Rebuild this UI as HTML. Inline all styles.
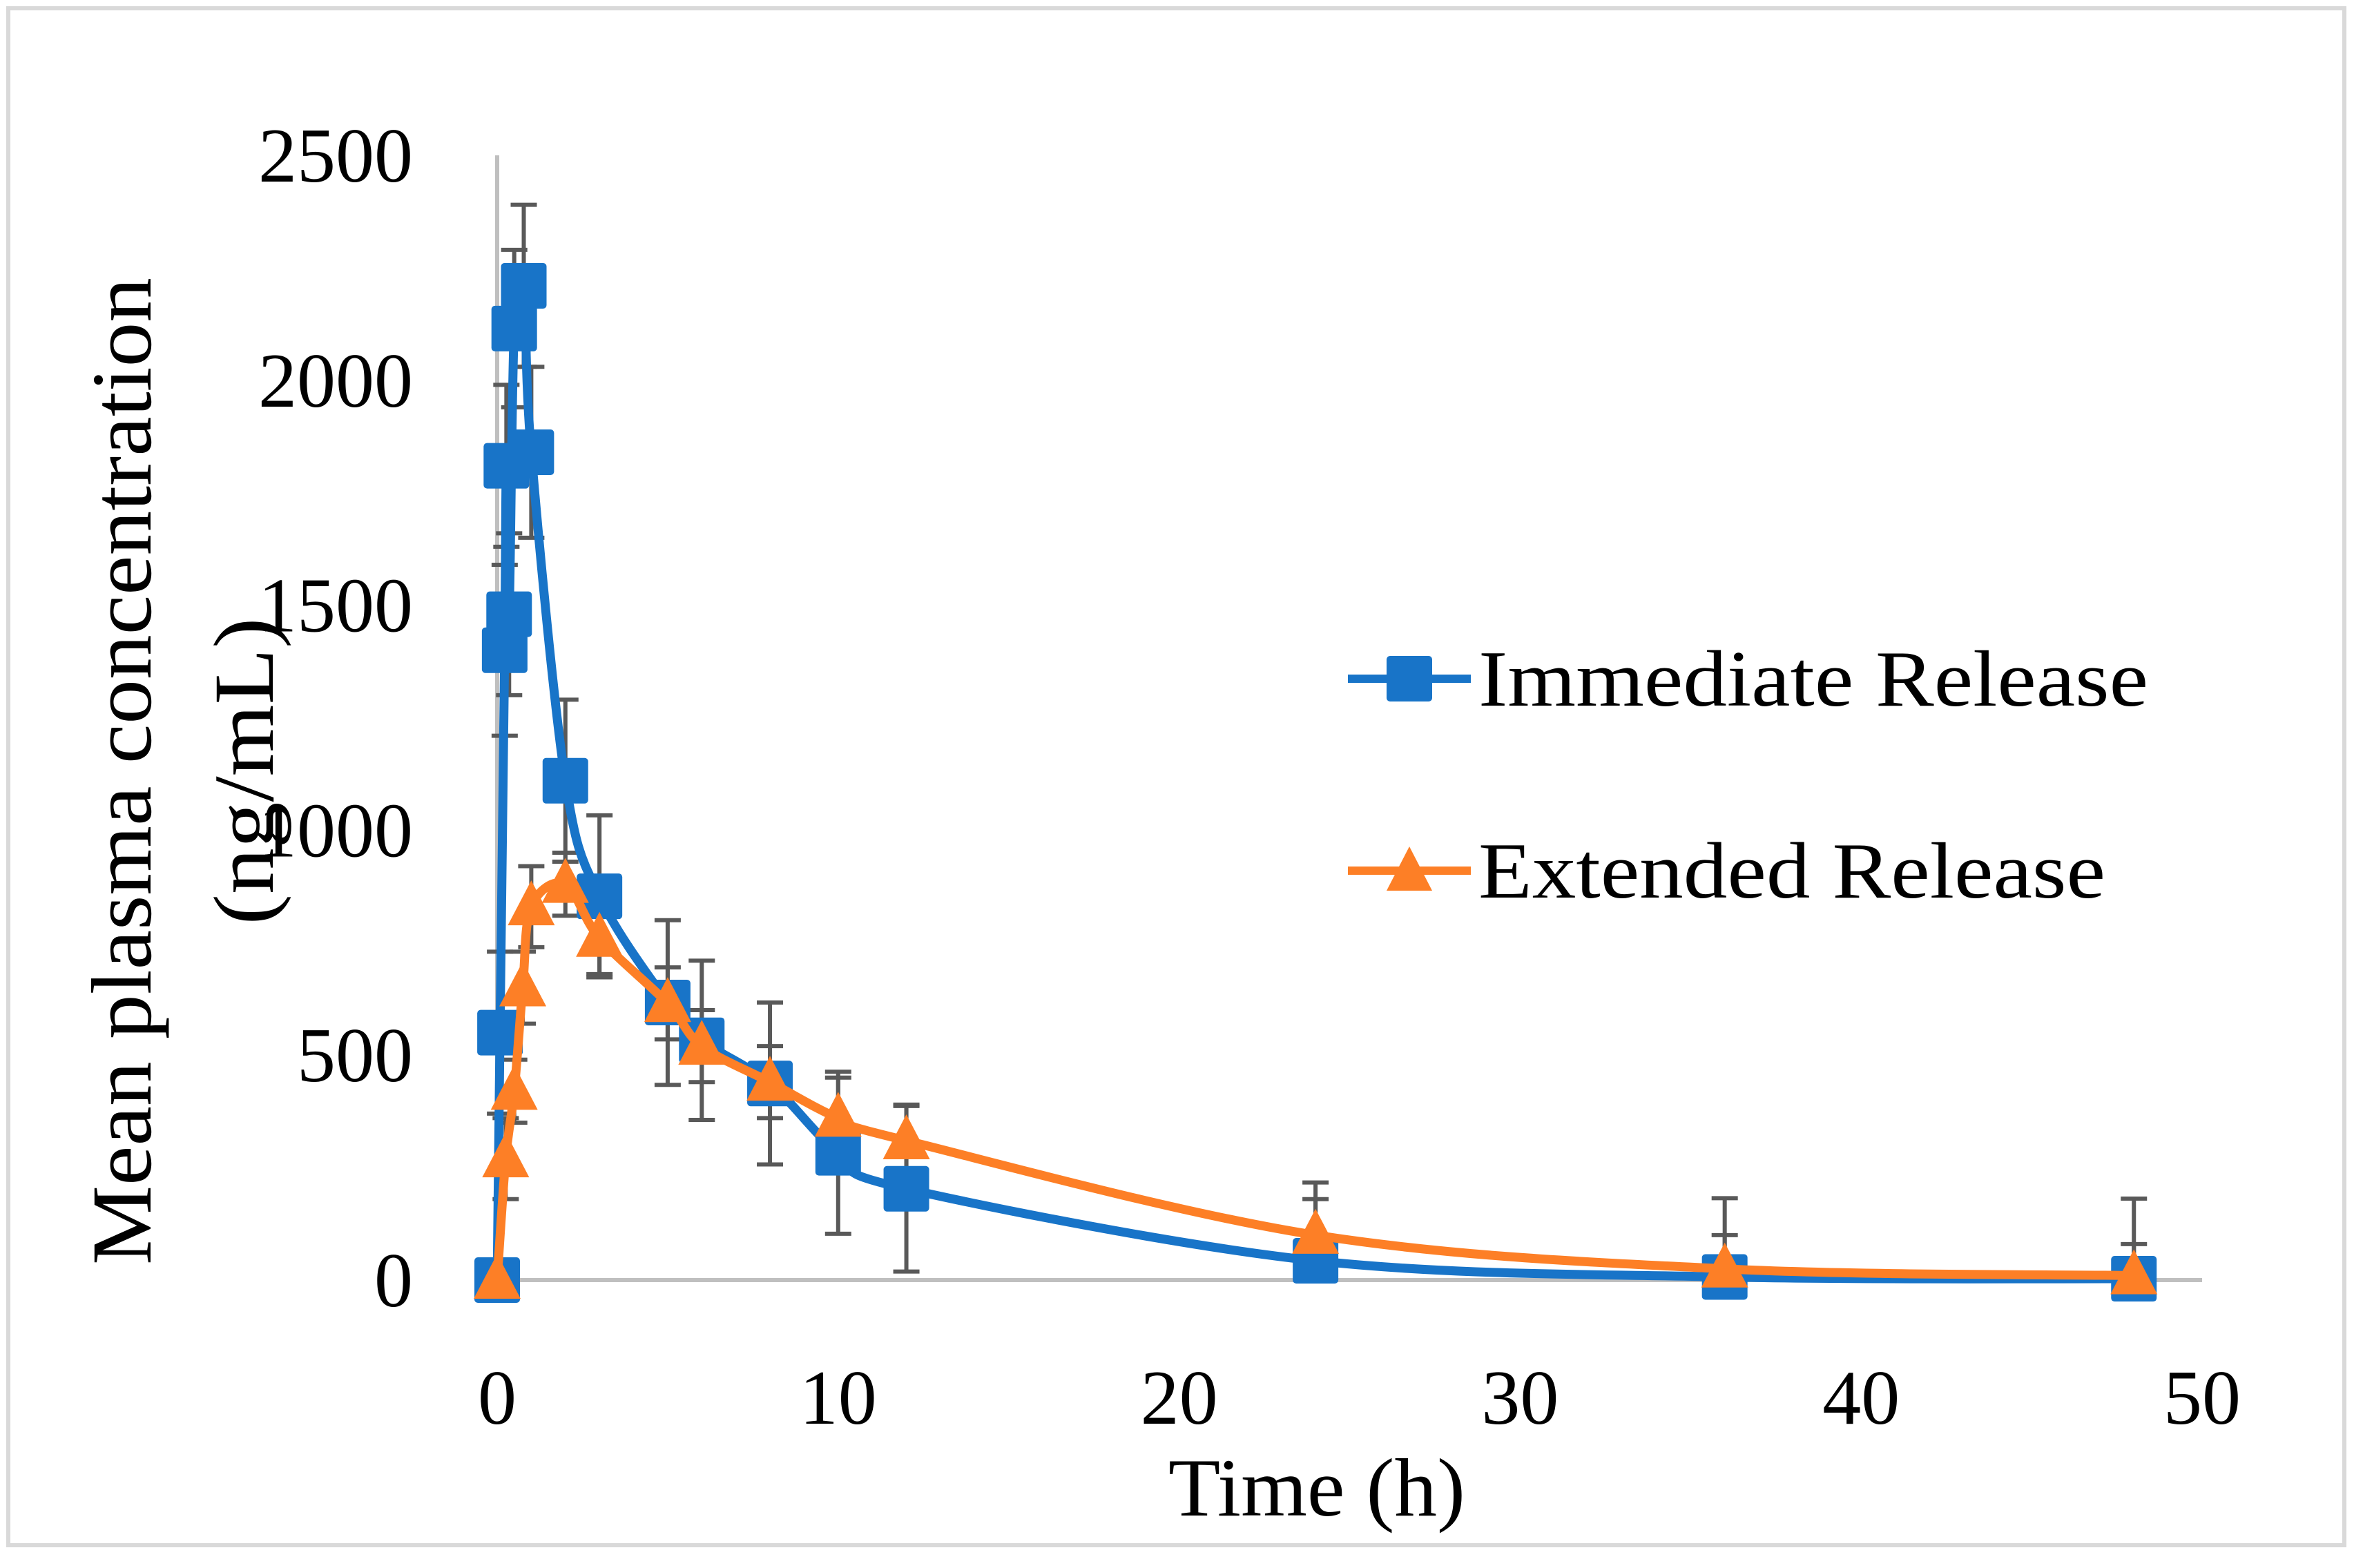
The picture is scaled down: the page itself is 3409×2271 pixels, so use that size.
<!DOCTYPE html>
<html><head><meta charset="utf-8"><style>html,body{margin:0;padding:0;background:#fff}svg{display:block}</style></head>
<body>
<svg id="chart" width="3409" height="2271" viewBox="0 0 3409 2271" xmlns="http://www.w3.org/2000/svg" font-family="'Liberation Serif', serif">
<rect x="12" y="12" width="3383" height="2226" fill="#fff" stroke="#d9d9d9" stroke-width="6"/>
<g id="axes"></g>
<g id="series"></g>
<text x="1907" y="2195" font-size="120" text-anchor="middle" textLength="430" lengthAdjust="spacingAndGlyphs">Time (h)</text>
<g transform="translate(0,1117) rotate(-90)">
<text x="0" y="218" font-size="124" text-anchor="middle" textLength="1430" lengthAdjust="spacingAndGlyphs">Mean plasma concentration</text>
<text x="0" y="395" font-size="124" text-anchor="middle" textLength="445" lengthAdjust="spacingAndGlyphs">(ng/mL)</text>
</g>
<g>
<g>
<line x1="1952" y1="983" x2="2130" y2="983" stroke="#1874c8" stroke-width="12"/>
<rect x="2008" y="950" width="66" height="66" rx="5" fill="#1874c8"/>
<text x="2141" y="1022" font-size="116" textLength="970" lengthAdjust="spacingAndGlyphs">Immediate Release</text>
</g>
<g>
<line x1="1952" y1="1261" x2="2130" y2="1261" stroke="#fd7f26" stroke-width="12"/>
<polygon points="2041,1226 2074,1290 2008,1290" fill="#fd7f26"/>
<text x="2141" y="1300" font-size="116" textLength="908" lengthAdjust="spacingAndGlyphs">Extended Release</text>
</g>
</g>
</svg>
<script>
const xTicks = [0, 10, 20, 30, 40, 50];
const yTicks = [0, 500, 1000, 1500, 2000, 2500];
const irTimes = [0, 0.083, 0.22, 0.35, 0.27, 0.5, 0.78, 1.0, 2, 3, 5, 6, 8, 10, 12, 24, 36, 48];
const irValues = [0, 550, 1400, 1480, 1810, 2115, 2210, 1840, 1110, 853, 617, 533, 437, 283, 203, 43, 7, 3];
const irSD = [0, 180, 190, 180, 180, 175, 180, 190, 180, 180, 183, 177, 180, 180, 184, 174, 175, 178];
const erTimes = [0, 0.25, 0.5, 0.75, 1, 2, 3, 5, 6, 8, 10, 12, 24, 36, 48];
const erValues = [0, 270, 420, 650, 830, 880, 760, 615, 520, 440, 360, 310, 100, 25, 10];
const erSD = [0, 90, 70, 80, 90, 70, 80, 80, 80, 80, 90, 80, 80, 75, 70];

const NS = 'http://www.w3.org/2000/svg';
const X0 = 720, X1 = 3189, Y0 = 1854, Y1 = 225;
function xs(v) { return X0 + (v - 0) / 50 * (X1 - X0); }
function ys(v) { return Y0 - v / 2500 * (Y0 - Y1); }
function mk(tag, attrs, parent) {
  const e = document.createElementNS(NS, tag);
  for (const k in attrs) e.setAttribute(k, attrs[k]);
  parent.appendChild(e);
  return e;
}
const axes = document.getElementById('axes');
const series = document.getElementById('series');

let a = mk('line', {x1: X0, y1: Y0, x2: X1, y2: Y0, stroke: '#bfbfbf', 'stroke-width': 6}, axes);


a = mk('line', {x1: X0, y1: Y0, x2: X0, y2: Y1, stroke: '#bfbfbf', 'stroke-width': 6}, axes);



xTicks.forEach(t => {
  const tx = mk('text', {x: xs(t), y: 2062, 'font-size': 112, 'text-anchor': 'middle'}, axes);
  tx.textContent = t;
  
  
});
yTicks.forEach(t => {
  const tx = mk('text', {x: 598, y: ys(t) + 38, 'font-size': 112, 'text-anchor': 'end'}, axes);
  tx.textContent = t;
  
  
});

function smoothPath(pts) {
  let d = 'M' + pts[0][0] + ',' + pts[0][1];
  for (let i = 0; i < pts.length - 1; i++) {
    const p0 = pts[Math.max(0, i - 1)], p1 = pts[i], p2 = pts[i + 1], p3 = pts[Math.min(pts.length - 1, i + 2)];
    const t = 0.5 / 3;
    const c1 = [p1[0] + (p2[0] - p0[0]) * t, p1[1] + (p2[1] - p0[1]) * t];
    const c2 = [p2[0] - (p3[0] - p1[0]) * t, p2[1] - (p3[1] - p1[1]) * t];
    d += ' C' + c1[0] + ',' + c1[1] + ' ' + c2[0] + ',' + c2[1] + ' ' + p2[0] + ',' + p2[1];
  }
  return d;
}
function errBars(times, vals, sd, name) {
  times.forEach((t, i) => {
    if (!sd[i]) return;
    const x = xs(t), yt = ys(vals[i] + sd[i]), yb = ys(Math.max(0, vals[i] - sd[i]));
    const g = mk('g', {stroke: '#595959', 'stroke-width': 6}, series);
    
    
    mk('line', {x1: x, y1: yt, x2: x, y2: yb}, g);
    mk('line', {x1: x - 19, y1: yt, x2: x + 19, y2: yt}, g);
    mk('line', {x1: x - 19, y1: yb, x2: x + 19, y2: yb}, g);
  });
}
errBars(irTimes, irValues, irSD, 'ir-error-bar');
errBars(erTimes, erValues, erSD, 'er-error-bar');

const irPts = irTimes.map((t, i) => [xs(t), ys(irValues[i])]);
const irOrder = irPts.map((p, i) => i).sort((a, b) => irTimes[a] - irTimes[b]);
const irLine = mk('path', {d: smoothPath(irOrder.map(i => irPts[i])), fill: 'none', stroke: '#1874c8', 'stroke-width': 13, 'stroke-linejoin': 'round'}, series);


irPts.forEach(p => {
  const r = mk('rect', {x: p[0] - 33, y: p[1] - 33, width: 66, height: 66, rx: 5, fill: '#1874c8'}, series);
  
  
});

const erPts = erTimes.map((t, i) => [xs(t), ys(erValues[i])]);
const erLine = mk('path', {d: smoothPath(erPts), fill: 'none', stroke: '#fd7f26', 'stroke-width': 13, 'stroke-linejoin': 'round'}, series);


erPts.forEach(p => {
  const tr = mk('polygon', {points: (p[0]) + ',' + (p[1] - 38) + ' ' + (p[0] + 34) + ',' + (p[1] + 27) + ' ' + (p[0] - 34) + ',' + (p[1] + 27), fill: '#fd7f26', 'stroke-linejoin': 'round'}, series);
  
  
});
</script>
</body></html>
